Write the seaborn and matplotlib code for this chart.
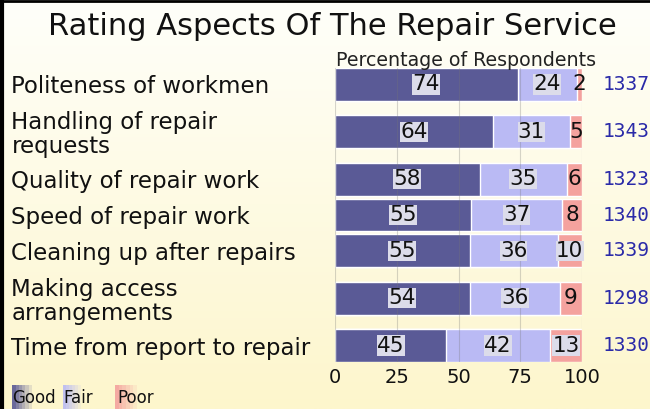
import numpy as np
import pandas as pd
import matplotlib
matplotlib.use("Agg")
import matplotlib.pyplot as plt
from matplotlib.lines import Line2D
from matplotlib.patches import Rectangle
import seaborn as sns

# chart data
aspects = ["Politeness of workmen", "Handling of repair\nrequests",
           "Quality of repair work", "Speed of repair work",
           "Cleaning up after repairs", "Making access\narrangements",
           "Time from report to repair"]
good = [74, 64, 58, 55, 55, 54, 45]
fair = [24, 31, 35, 37, 36, 36, 42]
poor = [2, 5, 6, 8, 10, 9, 13]
totals = [1337, 1343, 1323, 1340, 1339, 1298, 1330]

c_good = "#5a5a96"
c_fair = "#babaf4"
c_poor = "#f4a29e"

sns.set_theme(style="white")
plt.rcParams["font.family"] = ["DejaVu Sans"]

# row positions: two-line labels get a taller slot
lines = np.array([a.count("\n") + 1 for a in aspects])
slot = 1 + 0.65 * (lines - 1)
pos = np.cumsum(slot) - slot / 2

df = pd.DataFrame({"aspect": aspects, "pos": pos, "good": good,
                   "fair": fair, "poor": poor})
tot = df[["good", "fair", "poor"]].sum(axis=1)
df["c_good"] = df["good"] / tot * 100
df["c_fair"] = (df["good"] + df["fair"]) / tot * 100
df["c_poor"] = 100.0

fig = plt.figure(figsize=(6.5, 4.09), dpi=100)

# background gradient
bg = fig.add_axes([0, 0, 1, 1], zorder=-10)
grad = np.linspace(0, 1, 256).reshape(-1, 1)
cmap = matplotlib.colors.LinearSegmentedColormap.from_list(
    "bg", ["#fffffa", "#fdf6cc"])
bg.imshow(grad, aspect="auto", cmap=cmap, extent=[0, 1, 0, 1])
bg.set_axis_off()

ax = fig.add_axes([0.5154, 0.1149, 0.38, 0.7188])
ax.patch.set_alpha(0)

for col, c in [("c_poor", c_poor), ("c_fair", c_fair), ("c_good", c_good)]:
    sns.barplot(data=df, x=col, y="pos", orient="h", native_scale=True,
                color=c, saturation=1, width=0.92, ax=ax, zorder=2)

ax.set_ylim(pos[-1] + 0.46, pos[0] - 0.46)
ax.set_xlim(0, 100)
for v in [0, 25, 50, 75, 100]:
    ax.axvline(v, color="#777777", lw=0.8, alpha=0.3, zorder=3)
for s in ax.spines.values():
    s.set_visible(False)

ax.set_xticks([0, 25, 50, 75, 100])
ax.tick_params(axis="x", labelsize=14, length=0, pad=4, labelcolor="#111111")
ax.set_xlabel("")
ax.set_ylabel("")
ax.set_yticks(pos)
ax.set_yticklabels(aspects, fontsize=16.5, ha="left", linespacing=1.05,
                   color="#111111")
ax.tick_params(axis="y", length=0, pad=233)

# value labels
box = dict(facecolor="#dcdcea", edgecolor="none", pad=0.2)
for i, r in df.iterrows():
    g0 = r["c_good"]
    f0 = r["c_fair"]
    ax.text(g0 / 2, r["pos"], str(r["good"]), ha="center", va="center",
            fontsize=15.5, color="#111111", bbox=box, zorder=5)
    ax.text((g0 + f0) / 2, r["pos"], str(r["fair"]), ha="center",
            va="center", fontsize=15.5, color="#111111", bbox=box, zorder=5)
    pb = box if r["poor"] >= 10 else None
    ax.text((f0 + 100) / 2, r["pos"], str(r["poor"]), ha="center",
            va="center", fontsize=15.5, color="#111111", bbox=pb, zorder=5)
    ax.text(108.5, r["pos"], str(totals[i]), ha="left", va="center",
            fontsize=14, color="#2a2aa8", family="DejaVu Sans Mono",
            clip_on=False)

fig.text(0.512, 0.935, "Rating Aspects Of The Repair Service", ha="center",
         va="center", fontsize=22, color="#111111")
ax.text(53, pos[0] - 0.68, "Percentage of Respondents", ha="center",
        va="center", fontsize=13.7, color="#222222")

# legend: small colour swatches fading to the right behind the words
for x0, w, c in [(0.019, 0.03, c_good), (0.097, 0.028, c_fair),
                 (0.177, 0.034, c_poor)]:
    n = 6
    for k in range(n):
        fig.patches.append(Rectangle((x0 + k * w / n, 0.0), w / n, 0.058,
                                     transform=fig.transFigure, facecolor=c,
                                     edgecolor="none",
                                     alpha=0.9 * (1 - k / n)))
fig.text(0.019, 0.027, "Good", fontsize=12, va="center", color="#111111")
fig.text(0.098, 0.027, "Fair", fontsize=12, va="center", color="#111111")
fig.text(0.18, 0.027, "Poor", fontsize=12, va="center", color="#111111")

# border
fig.lines.append(Line2D([0.003, 0.003], [0, 1], transform=fig.transFigure,
                        color="black", lw=3))
fig.lines.append(Line2D([0, 1], [0.997, 0.997], transform=fig.transFigure,
                        color="black", lw=2))

fig.savefig("out.png", dpi=100)
